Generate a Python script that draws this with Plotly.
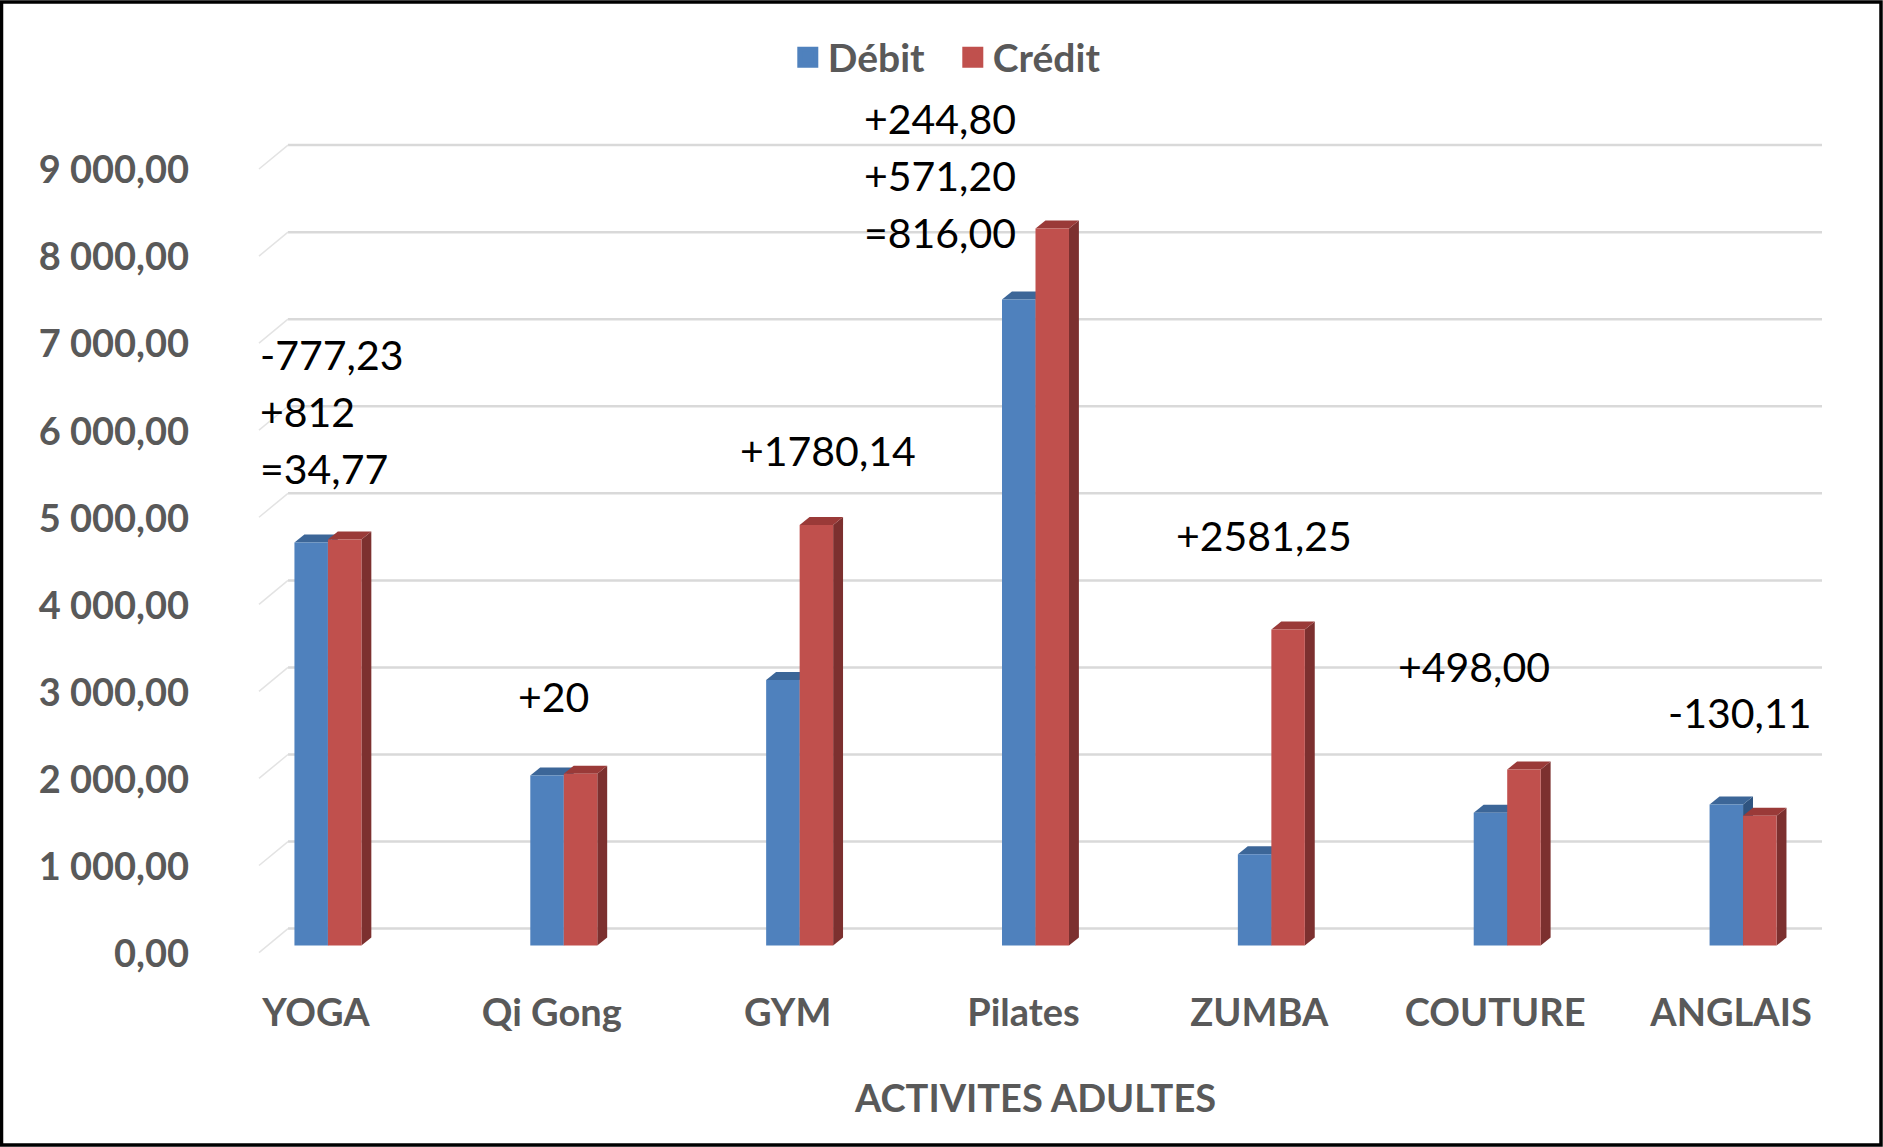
import plotly.graph_objects as go

# ---------------- data ----------------
categories = ["YOGA", "Qi Gong", "GYM", "Pilates", "ZUMBA", "COUTURE", "ANGLAIS"]
debit = [4630, 1955, 3050, 7420, 1050, 1525, 1620]
credit = [4665, 1975, 4830, 8236, 3631, 2023, 1490]
y_ticks = [0, 1000, 2000, 3000, 4000, 5000, 6000, 7000, 8000, 9000]
y_tick_labels = ["0,00", "1 000,00", "2 000,00", "3 000,00", "4 000,00",
                 "5 000,00", "6 000,00", "7 000,00", "8 000,00", "9 000,00"]
note_lines = [["-777,23", "+812", "=34,77"], ["+20"], ["+1780,14"],
              ["+244,80", "+571,20", "=816,00"], ["+2581,25"], ["+498,00"], ["-130,11"]]

# ---------------- layout helpers (positions / styles) ----------------
note_x = [-0.297, 0.797, 1.739, 2.265, 3.588, 4.529, 5.674]
note_top_y = [6785, 2859, 5683, 9506, 4707, 3203, 2675]
note_line_step = 655

BLUE, RED = "#4F81BD", "#C0504D"
BLUE_TOP, RED_TOP, RED_SIDE, BLUE_SIDE = "#3C6698", "#9A3A38", "#7C302F", "#2F5480"
GRAY = "#595959"
FONT = "Lato"
bar_w = 0.142
dx, dy = 0.042, 92          # 3D depth offsets (x units, y units)
grid_dy = 195
l_m, r_m, t_m, b_m = 210, 22, 75, 184
W, H = 1883, 1147
pw, ph = W - l_m - r_m, H - t_m - b_m

fig = go.Figure()
fig.add_trace(go.Bar(x=list(range(len(categories))), y=debit, name="Débit",
                     showlegend=False, marker=dict(color=BLUE, line=dict(width=0))))
fig.add_trace(go.Bar(x=list(range(len(categories))), y=credit, name="Crédit",
                     showlegend=False, marker=dict(color=RED, line=dict(width=0))))
# legend entries with larger square swatches
for nm, col in (("Débit", BLUE), ("Crédit", RED)):
    fig.add_trace(go.Scatter(x=[None], y=[None], mode="markers", name=nm,
                             marker=dict(symbol="square", size=24, color=col,
                                         line=dict(color=col, width=5))))

shapes = []
# back-wall gridlines with 3D slash
gx0 = (288 - l_m) / pw
gx1 = (1822 - l_m) / pw
sx0 = (259 - l_m) / pw
for v in y_ticks:
    shapes.append(dict(type="line", xref="paper", yref="y", x0=gx0, x1=gx1,
                       y0=v + grid_dy, y1=v + grid_dy, layer="below",
                       line=dict(color="#D9D9D9", width=2.5)))
    shapes.append(dict(type="line", xref="paper", yref="y", x0=sx0, x1=gx0,
                       y0=v - 80, y1=v + grid_dy, layer="below",
                       line=dict(color="#E3E3E3", width=1.5)))

# 3D faces computed from the values
for i in range(len(categories)):
    for vals, off, top_c, side_c in ((debit, -bar_w / 2, BLUE_TOP, BLUE_SIDE),
                                     (credit, bar_w / 2, RED_TOP, RED_SIDE)):
        v = vals[i]
        xl = i + off - bar_w / 2
        xr = xl + bar_w
        shapes.append(dict(type="path", xref="x", yref="y", layer="below",
                           path=f"M {xr},0 L {xr+dx},{dy} L {xr+dx},{v+dy} L {xr},{v} Z",
                           fillcolor=side_c, line=dict(width=0)))
        shapes.append(dict(type="path", xref="x", yref="y", layer="below",
                           path=f"M {xl},{v} L {xl+dx},{v+dy} L {xr+dx},{v+dy} L {xr},{v} Z",
                           fillcolor=top_c, line=dict(width=0)))

# outer border
shapes.append(dict(type="rect", xref="paper", yref="paper",
                   x0=(1.5 - l_m) / pw, x1=(W - 2 - l_m) / pw,
                   y0=(ph - (H - 2 - t_m)) / ph, y1=(ph - (2 - t_m)) / ph,
                   line=dict(color="black", width=3.5), layer="above"))

annotations = []
for i, lines in enumerate(note_lines):
    for k, txt in enumerate(lines):
        annotations.append(dict(x=note_x[i], y=note_top_y[i] - k * note_line_step,
                                xref="x", yref="y", text=txt, showarrow=False,
                                xanchor="left", yanchor="middle",
                                font=dict(family=FONT, size=41, color="black")))

fig.update_layout(
    width=W, height=H,
    margin=dict(l=l_m, r=r_m, t=t_m, b=b_m, pad=0, autoexpand=False),
    paper_bgcolor="white", plot_bgcolor="white",
    barmode="group", bargap=1 - 2 * bar_w, bargroupgap=0,
    shapes=shapes, annotations=annotations,
    legend=dict(orientation="h", xref="container", yref="container",
                x=0.506, y=0.950, xanchor="center", yanchor="middle",
                font=dict(family=FONT, size=39, color=GRAY, weight="bold"),
                itemwidth=30, entrywidth=120, entrywidthmode="pixels",
                bgcolor="rgba(0,0,0,0)"),
    xaxis=dict(range=[-0.5, len(categories) - 0.5], tickmode="array",
               tickvals=list(range(len(categories))), ticktext=categories,
               showgrid=False, zeroline=False, showline=False, ticks="",
               automargin=False,
               ticklabelshift=-12, ticklabelstandoff=24,
               tickfont=dict(family=FONT, size=38, color=GRAY, weight="bold"),
               title=dict(text="ACTIVITES ADULTES", standoff=52,
                          font=dict(family=FONT, size=38, color=GRAY, weight="bold"))),
    yaxis=dict(range=[-200, 10000], tickmode="array", tickvals=y_ticks,
               ticktext=y_tick_labels, showgrid=False, zeroline=False,
               showline=False, ticks="", automargin=False,
               ticklabelshift=8, ticklabelstandoff=20,
               tickfont=dict(family=FONT, size=38, color=GRAY, weight="bold")),
)

fig.write_html("out.html", config={"displayModeBar": False},
               post_script="document.body.style.margin='0';document.body.style.overflow='hidden';")
